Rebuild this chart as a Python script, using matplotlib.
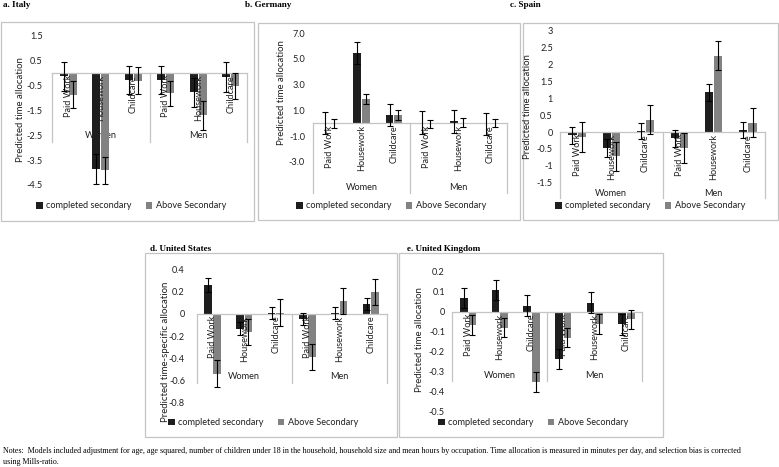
import numpy as np
import matplotlib
matplotlib.use('Agg')
import matplotlib.pyplot as plt
from matplotlib.transforms import blended_transform_factory, offset_copy

plt.rcParams['font.family'] = ['Lato', 'DejaVu Sans']

W, H = 779, 467

categories = ['Paid Work', 'Housework', 'Childcare']
groups = ['Women', 'Men']
series_names = ['completed secondary', 'Above Secondary']

# values: Women (PW, HW, CC), then Men (PW, HW, CC)
italy_sec = [-0.13, -3.86, -0.27, -0.27, -0.78, -0.16]
italy_sec_err = [0.58, 0.60, 0.57, 0.57, 0.60, 0.60]
italy_above = [-0.87, -3.90, -0.31, -0.81, -1.70, -0.52]
italy_above_err = [0.54, 0.54, 0.54, 0.50, 0.58, 0.52]

germany_sec = [0.02, 5.45, 0.66, 0.05, 0.15, -0.05]
germany_sec_err = [0.88, 0.85, 0.87, 0.88, 0.90, 0.88]
germany_above = [0.01, 1.90, 0.60, -0.05, 0.05, 0.0]
germany_above_err = [0.35, 0.40, 0.39, 0.30, 0.34, 0.33]

spain_sec = [-0.10, -0.47, 0.03, -0.19, 1.18, 0.06]
spain_sec_err = [0.25, 0.27, 0.24, 0.24, 0.25, 0.24]
spain_above = [-0.15, -0.72, 0.36, -0.47, 2.26, 0.28]
spain_above_err = [0.45, 0.43, 0.43, 0.45, 0.43, 0.44]

us_sec = [0.26, -0.135, 0.005, -0.045, 0.005, 0.085]
us_sec_err = [0.06, 0.06, 0.055, 0.055, 0.055, 0.055]
us_above = [-0.54, -0.165, 0.01, -0.39, 0.115, 0.195]
us_above_err = [0.12, 0.12, 0.12, 0.115, 0.115, 0.12]

uk_sec = [0.07, 0.108, 0.03, -0.237, 0.046, -0.062]
uk_sec_err = [0.05, 0.05, 0.052, 0.05, 0.051, 0.053]
uk_above = [-0.067, -0.08, -0.35, -0.129, -0.062, -0.038]
uk_above_err = [0.05, 0.048, 0.05, 0.046, 0.05, 0.049]

italy_ticks = ['1.5', '0.5', '-0.5', '-1.5', '-2.5', '-3.5', '-4.5']
germany_ticks = ['7.0', '5.0', '3.0', '1.0', '-1.0', '-3.0']
spain_ticks = ['3', '2.5', '2', '1.5', '1', '0.5', '0', '-0.5', '-1', '-1.5']
us_ticks = ['0.4', '0.2', '0', '-0.2', '-0.4', '-0.6', '-0.8']
uk_ticks = ['0.2', '0.1', '0', '-0.1', '-0.2', '-0.3', '-0.4', '-0.5']

note1 = ('Notes:  Models included adjustment for age, age squared, number of children under 18 in the household, '
         'household size and mean hours by occupation. Time allocation is measured in minutes per day, and selection bias is corrected')
note2 = 'using Mills-ratio.'

dark = '#1e1e1e'
grey = '#828282'
txt = '#1f1f1f'
line_c = '#c4c4c4'
fs = 6.6

fig = plt.figure(figsize=(W / 100, H / 100), dpi=100)


def fx(px):
    return px / W


def fy(py):
    return 1 - py / H


def draw_panel(sec, sec_err, above, above_err, ticklabels, ylabel, title,
               box, plot, title_xy, ylabel_xy, tick_right, group_y, sep_y, legend_xy):
    bx0, by0, bx1, by1 = box
    fig.patches.append(plt.Rectangle((fx(bx0), fy(by1)), (bx1 - bx0) / W, (by1 - by0) / H,
                                     transform=fig.transFigure, fill=False, ec=line_c, lw=0.9))
    fig.text(fx(title_xy[0]), fy(title_xy[1]), title, family='Liberation Serif',
             weight='bold', fontsize=6.6, ha='left', va='center')

    l, r, t, b = plot
    ax = fig.add_axes([fx(l), fy(b), (r - l) / W, (b - t) / H])
    vals = [float(s) for s in ticklabels]
    ymax, ymin = vals[0], vals[-1]
    x = np.arange(6)
    w, off = 0.24, 0.135
    ax.bar(x - off, sec, w, color=dark, zorder=2, label=series_names[0])
    ax.bar(x + off, above, w, color=grey, zorder=2, label=series_names[1])
    ax.errorbar(x - off, sec, yerr=sec_err, fmt='none', ecolor='black',
                elinewidth=0.8, capsize=2, capthick=0.8, zorder=5)
    ax.errorbar(x + off, above, yerr=above_err, fmt='none', ecolor='black',
                elinewidth=0.8, capsize=2, capthick=0.8, zorder=5)
    ax.set_xlim(-0.5, 5.5)
    ax.set_ylim(ymin, ymax)
    ax.set_yticks(vals)
    ax.set_yticklabels(ticklabels, fontsize=fs, color=txt)
    ax.set_xticks([])
    ax.tick_params(axis='y', length=0, pad=(l - tick_right) * 0.72)
    for s in ax.spines.values():
        s.set_visible(False)
    ax.patch.set_alpha(0)

    # category axis at zero with multi-level labels
    ax.plot([-0.5, 5.5], [0, 0], color=line_c, lw=0.9, zorder=3, clip_on=False)
    sep_val = ymax - (sep_y - t) / (b - t) * (ymax - ymin)
    for xv in [-0.5, 2.5, 5.5]:
        ax.plot([xv, xv], [0, sep_val], color=line_c, lw=0.9, zorder=1, clip_on=False)
    tr = offset_copy(ax.transData, fig=fig, y=-2, units='dots')
    for i in range(6):
        ax.text(i, 0, categories[i % 3], rotation=90, ha='center', va='top',
                fontsize=fs, color=txt, transform=tr, zorder=4, clip_on=False)
    gtr = blended_transform_factory(ax.transData, fig.transFigure)
    for j, g in enumerate(groups):
        ax.text(1 + 3 * j, fy(group_y), g, ha='center', va='center', fontsize=fs,
                color=txt, transform=gtr, zorder=1, clip_on=False)

    fig.text(fx(ylabel_xy[0]), fy(ylabel_xy[1]), ylabel, rotation=90, ha='center',
             va='center', fontsize=fs + 0.3, color=txt)
    ax.legend(loc='center', bbox_to_anchor=(fx(legend_xy[0]), fy(legend_xy[1])),
              bbox_transform=fig.transFigure, ncol=2, frameon=False, fontsize=fs,
              handlelength=0.7, handleheight=0.7, handletextpad=0.35,
              columnspacing=1.6, borderpad=0, labelcolor=txt)
    return ax


draw_panel(italy_sec, italy_sec_err, italy_above, italy_above_err, italy_ticks,
           'Predicted time allocation', 'a. Italy',
           box=(1, 22, 254, 221), plot=(52, 247, 35.7, 185), title_xy=(3, 5),
           ylabel_xy=(21, 110), tick_right=43, group_y=136, sep_y=142, legend_xy=(131, 206))

draw_panel(germany_sec, germany_sec_err, germany_above, germany_above_err, germany_ticks,
           'Predicted time allocation', 'b. Germany',
           box=(258, 23, 520, 220), plot=(313.3, 506.7, 33.3, 161.7), title_xy=(245, 5),
           ylabel_xy=(281, 93), tick_right=305, group_y=188, sep_y=193, legend_xy=(391, 206))

draw_panel(spain_sec, spain_sec_err, spain_above, spain_above_err, spain_ticks,
           'Predicted time allocation', 'c. Spain',
           box=(523, 23, 778, 220), plot=(560, 765, 30.7, 182.7), title_xy=(510, 5),
           ylabel_xy=(528, 107), tick_right=553, group_y=194, sep_y=198, legend_xy=(650, 206))

draw_panel(us_sec, us_sec_err, us_above, us_above_err, us_ticks,
           'Predicted time-specific allocation', 'd. United States',
           box=(145, 253, 397, 437), plot=(196.7, 386.7, 269.3, 402.7), title_xy=(150, 249),
           ylabel_xy=(165, 352), tick_right=185, group_y=376.7, sep_y=383, legend_xy=(263, 422.7))

draw_panel(uk_sec, uk_sec_err, uk_above, uk_above_err, uk_ticks,
           'Predicted time allocation', 'e. United Kingdom',
           box=(399, 253, 663, 437), plot=(452.3, 642.3, 271.7, 411.7), title_xy=(407, 249),
           ylabel_xy=(420, 340), tick_right=445, group_y=375, sep_y=381, legend_xy=(533, 422.7))

fig.text(fx(3), fy(451), note1, family='Liberation Serif', fontsize=5.8, ha='left', va='center')
fig.text(fx(3), fy(462), note2, family='Liberation Serif', fontsize=5.8, ha='left', va='center')

fig.savefig('out.png', dpi=100)
